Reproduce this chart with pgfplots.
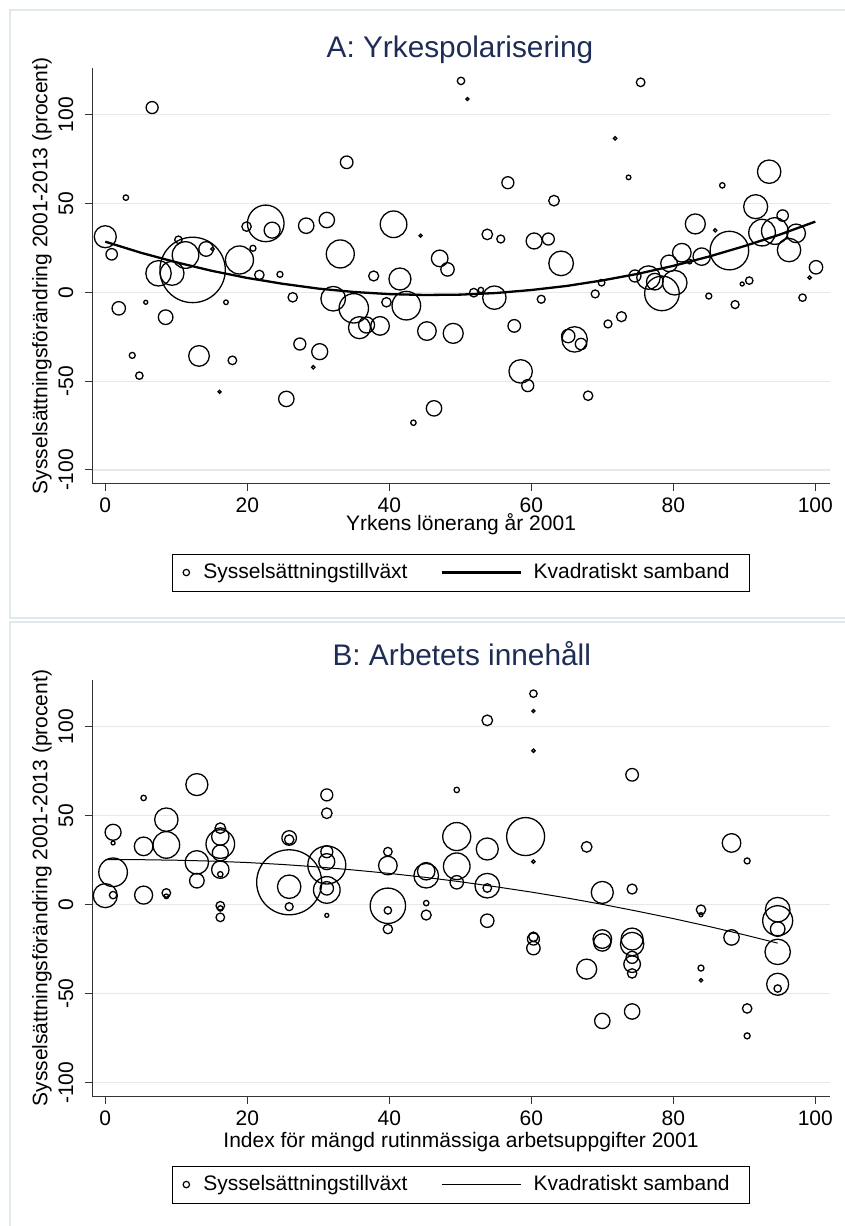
\documentclass[border=0pt]{standalone}
\usepackage{pgfplots}
\pgfplotsset{compat=1.18}
\usepackage{pgfplotstable}
\usepackage{fontspec}
\setmainfont{Liberation Sans}

\definecolor{gridcol}{RGB}{226,234,238}
\definecolor{titlecol}{RGB}{30,45,85}
\definecolor{panelcol}{RGB}{224,233,236}
\newcommand{\lab}{\fontsize{10.5}{12.6}\selectfont}
\newcommand{\ttl}{\fontsize{14.9}{17.9}\selectfont}

% panel A: x = lönerang, y = förändring (%), s = bubbelradie (pt)
\pgfplotstableread{
x y s
6.6 104 3.0
2.9 53.3 1.35
0.0 31.3 5.5
0.9 21.4 2.85
1.9 -9.0 3.35
3.8 -35.5 1.5
4.8 -46.9 1.85
5.7 -5.6 1.0
7.5 10.7 6.35
9.4 10.7 6.0
10.3 29.6 1.85
11.3 21.0 6.65
12.3 12.6 16.35
14.2 24.4 3.65
15.1 24.4 0.85
8.5 -14.0 3.65
13.2 -35.8 5.15
17.0 -5.6 1.15
17.9 -38.3 2.15
16.1 -56.0 0.75
18.9 18.2 7.0
19.9 37.0 2.35
20.8 24.8 1.5
21.7 9.8 2.35
22.6 38.8 9.15
23.5 35.0 4.0
24.6 10.1 1.5
26.4 -2.8 2.35
28.3 37.5 3.85
31.2 40.7 3.85
34.0 73.2 3.15
33.1 21.6 7.0
32.1 -3.6 6.15
35.0 -9.0 7.35
35.8 -19.9 5.5
36.8 -18.4 4.0
38.7 -18.9 4.65
37.8 9.2 2.5
39.6 -5.6 2.35
40.6 38.3 6.65
44.4 31.9 0.75
41.5 7.5 5.5
42.4 -7.5 7.15
47.1 19.1 4.15
48.2 12.9 3.35
45.3 -21.8 4.65
49.0 -23.1 5.0
27.4 -29.1 3.0
30.2 -33.4 4.0
29.3 -42.2 0.85
25.5 -60.0 3.85
46.3 -65.3 3.85
43.4 -73.4 1.35
50.1 119.0 1.85
51.0 108.8 0.75
71.8 86.7 0.85
73.7 64.7 1.15
75.4 118.2 2.15
56.7 61.7 3.0
63.2 51.6 2.65
53.8 32.6 2.65
55.7 30.0 2.0
60.4 28.9 4.0
62.4 30.0 3.0
64.2 16.3 6.15
51.9 -0.2 2.15
52.9 1.3 1.35
54.8 -3.0 5.85
61.4 -3.9 2.0
57.6 -18.9 3.15
69.9 5.4 1.65
69.0 -0.9 2.0
74.6 9.2 3.0
66.1 -26.5 6.35
65.2 -24.6 3.35
67.0 -29.1 2.85
70.8 -17.8 2.0
72.7 -13.7 2.5
58.5 -44.5 5.85
59.5 -52.5 3.0
68.0 -58.2 2.35
93.5 67.9 5.85
86.9 60.2 1.35
91.6 48.2 6.0
95.4 43.2 2.85
83.1 38.5 5.0
85.9 34.9 0.85
92.5 33.6 6.65
94.3 34.5 6.65
97.3 33.2 4.65
96.3 23.8 5.85
87.9 23.5 9.65
81.2 22.3 4.65
84.0 20.1 4.35
82.3 17.3 1.15
79.4 16.3 4.15
76.5 8.3 5.85
77.4 6.0 4.15
80.2 5.4 6.15
78.4 -0.6 8.65
100.1 14.1 3.35
99.2 8.3 0.85
90.7 6.6 1.85
89.7 4.7 1.0
85.0 -2.1 1.5
88.7 -6.9 2.0
98.2 -3.0 1.85
}\dataA

\pgfplotstableread{
x y
0 28.5
5 22.3
10 16.9
15 12.1
20 8.1
25 4.8
30 2.1
35 0.2
40 -1.0
45 -1.5
50 -1.3
55 -0.4
60 1.3
65 3.6
70 6.7
75 10.4
80 14.9
85 20.1
90 26.0
95 32.5
100 39.8
}\fitA

% panel B: x = rutinindex
\pgfplotstableread{
x y s
12.9 67.5 5.5
5.4 60.0 1.35
8.6 47.8 5.85
1.1 40.7 4.0
1.1 34.7 1.0
5.4 32.8 4.65
8.6 33.6 6.65
16.2 43.0 2.65
16.2 38.3 4.35
16.2 34.1 7.15
16.2 29.1 4.0
16.2 19.7 4.35
16.2 17.1 1.35
12.9 23.8 5.85
12.9 13.5 3.65
1.1 18.2 7.15
0.0 5.1 6.0
1.1 5.4 1.85
5.4 5.4 4.5
8.6 6.6 2.15
8.6 4.7 1.15
16.2 -0.6 2.15
16.2 -2.1 1.35
16.2 -7.1 2.15
25.9 12.6 16.25
25.9 37.5 3.65
25.9 36.6 2.35
25.9 10.1 5.85
25.9 -1.1 2.0
31.2 61.7 3.0
31.2 51.4 2.65
31.2 29.8 3.0
31.2 24.2 4.0
31.2 22.3 9.5
31.2 8.3 6.65
31.2 9.2 3.35
31.2 -6.0 1.0
39.8 29.8 2.15
39.8 22.0 4.65
39.8 -0.6 8.85
39.8 -3.2 1.85
39.8 -13.7 2.35
45.2 18.8 4.35
45.2 16.3 6.15
45.2 0.9 1.35
45.2 -5.8 2.5
49.5 64.5 1.35
49.5 38.3 7.0
49.5 21.6 6.65
49.5 12.6 3.35
53.8 103.6 2.65
60.3 118.6 1.85
60.3 108.8 0.75
60.3 86.5 0.85
60.3 24.2 0.85
59.2 38.3 9.5
53.8 31.3 5.5
53.8 10.7 6.15
53.8 9.4 2.15
53.8 -9.0 3.35
60.3 -18.0 2.35
60.3 -19.3 3.0
60.3 -24.4 3.35
67.8 32.5 2.65
70.0 6.9 5.5
70.0 -19.3 4.65
70.0 -21.2 4.35
67.8 -36.2 5.0
70.0 -65.3 3.85
74.2 73.0 3.15
74.2 8.8 2.5
74.2 -19.3 5.5
74.2 -22.1 5.85
74.2 -29.6 3.0
74.2 -33.4 4.15
74.2 -38.6 2.35
74.2 -60.0 3.85
88.2 34.7 4.65
90.4 24.6 1.5
83.9 -2.8 2.35
83.9 -5.6 1.0
83.9 -35.6 1.5
83.9 -42.4 0.85
88.2 -18.4 3.85
90.4 -58.3 2.35
90.4 -73.7 1.5
94.7 -2.8 6.15
94.7 -9.0 7.5
94.7 -13.7 3.65
94.7 -26.5 6.35
94.7 -44.7 5.5
94.7 -47.1 1.85
}\dataB

\pgfplotstableread{
x y
0 25.3
5 25.3
10 25.0
15 24.5
20 23.7
25 22.6
30 21.2
35 19.5
40 17.6
45 15.4
50 12.9
55 10.1
60 7.1
65 3.8
70 0.2
75 -3.7
80 -7.8
85 -12.2
90 -16.9
94.7 -21.6
}\fitB

\pgfplotsset{
  stata/.style={
    scale only axis, width=369pt,
    xmin=-1.87, xmax=102.07, ymin=-107.5, ymax=126.1,
    axis lines*=left,
    axis line style={-, black!80, line width=0.5pt},
    xtick={0,20,40,60,80,100}, ytick={-100,-50,0,50,100},
    tick align=outside, major tick length=3.75pt,
    tick style={black!80, line width=0.5pt},
    ymajorgrids, grid style={gridcol, line width=0.65pt},
    /pgf/number format/assume math mode=true,
    ticklabel style={font=\lab},
    yticklabel style={xshift=-2pt, rotate=90, anchor=south},
    every axis y label/.style={at={(axis description cs:-0.0678,0.5)}, rotate=90, anchor=center, font=\lab},
    every axis title/.style={anchor=base, font=\ttl, color=titlecol},
    clip=false,
    legend columns=2,
    legend cell align=left,
    legend style={anchor=center, draw=black, line width=0.5pt, fill=white,
      inner xsep=0pt, inner ysep=4.7pt, column sep=0pt, font=\lab,
      nodes={inner sep=0pt}},
  },
  bubbles/.style={only marks, mark=o, scatter, forget plot,
    scatter/use mapped color={draw=black},
    line width=0.65pt,
    visualization depends on={\thisrow{s}\as\msize},
    scatter/@pre marker code/.append style={/tikz/mark size=\msize}},
}

\begin{document}
\begin{tikzpicture}
\useasboundingbox (0,0) rectangle (422.5pt,-613pt);
\fill[white] (0,0) rectangle (422.5pt,-613pt);
\draw[panelcol, line width=0.75pt] (5pt,-5pt) rectangle (440pt,-309pt);
\draw[panelcol, line width=0.75pt] (5pt,-311pt) rectangle (440pt,-640pt);

\begin{axis}[stata, at={(46pt,-241.65pt)}, anchor=south west, height=207.5pt,
  title={A: Yrkespolarisering},
  title style={at={(axis description cs:0.4986,1.0265)}},
  xlabel={Yrkens lönerang år 2001},
  xlabel style={at={(axis description cs:0.5,-0.099)}, anchor=center, font=\lab},
  ylabel={Sysselsättningsförändring 2001-2013 (procent)},
  legend style={at={(axis description cs:0.5,-0.215)}}]
\addplot[bubbles] table[x=x, y=y] {\dataA};
\addplot[black, line width=1.15pt, forget plot] table[x=x, y=y] {\fitA};
\addlegendimage{legend image code/.code={\path[draw=none] (0pt,-4pt) rectangle (15.5pt,4pt); \draw[black, line width=0.6pt] (7pt,0pt) circle (1.6pt);}}
\addlegendentry{Sysselsättningstillväxt}
\addlegendimage{legend image code/.code={\path[draw=none] (0pt,-4pt) rectangle (63pt,4pt); \draw[black, line width=1.15pt] (17pt,0pt) -- (56.5pt,0pt);}}
\addlegendentry{Kvadratiskt samband\rule{10pt}{0pt}}
\end{axis}

\begin{axis}[stata, at={(46pt,-548pt)}, anchor=south west, height=207.85pt,
  title={B: Arbetets innehåll},
  title style={at={(axis description cs:0.501,1.0368)}},
  xlabel={Index för mängd rutinmässiga arbetsuppgifter 2001},
  xlabel style={at={(axis description cs:0.5,-0.1107)}, anchor=center, font=\lab},
  ylabel={Sysselsättningsförändring 2001-2013 (procent)},
  legend style={at={(axis description cs:0.5,-0.213)}}]
\addplot[bubbles] table[x=x, y=y] {\dataB};
\addplot[black, line width=0.5pt, forget plot] table[x=x, y=y] {\fitB};
\addlegendimage{legend image code/.code={\path[draw=none] (0pt,-4pt) rectangle (15.5pt,4pt); \draw[black, line width=0.6pt] (7pt,0pt) circle (1.6pt);}}
\addlegendentry{Sysselsättningstillväxt}
\addlegendimage{legend image code/.code={\path[draw=none] (0pt,-4pt) rectangle (63pt,4pt); \draw[black, line width=0.5pt] (17pt,0pt) -- (56.5pt,0pt);}}
\addlegendentry{Kvadratiskt samband\rule{10pt}{0pt}}
\end{axis}
\end{tikzpicture}
\end{document}
